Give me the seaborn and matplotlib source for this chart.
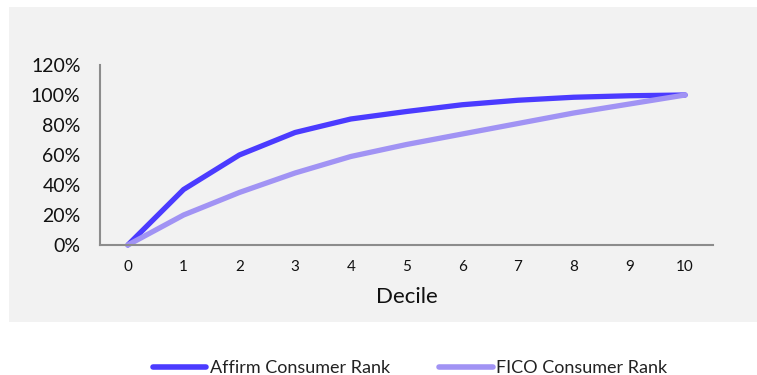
import matplotlib
matplotlib.use("Agg")
import matplotlib.pyplot as plt
import matplotlib.patches as mpatches
from matplotlib.ticker import PercentFormatter
import pandas as pd
import seaborn as sns

deciles = [0, 1, 2, 3, 4, 5, 6, 7, 8, 9, 10]
affirm_rank = [0.0, 0.37, 0.60, 0.75, 0.84, 0.89, 0.935, 0.965, 0.985, 0.995, 1.0]
fico_rank = [0.0, 0.20, 0.35, 0.48, 0.59, 0.67, 0.74, 0.81, 0.88, 0.94, 1.0]
series_names = ["Affirm Consumer Rank", "FICO Consumer Rank"]
series_colors = ["#4B3BFF", "#A193F4"]

df = pd.DataFrame({
    "Decile": deciles * 2,
    "Share": affirm_rank + fico_rank,
    "Series": [series_names[0]] * len(deciles) + [series_names[1]] * len(deciles),
})

sns.set_theme(style="white")
plt.rcParams["font.family"] = ["Lato", "DejaVu Sans"]

fig = plt.figure(figsize=(7.57, 3.75), dpi=100)
fig.patch.set_facecolor("white")
# light grey panel behind the plot area
fig.patches.append(mpatches.Rectangle((9 / 757, 53 / 375), 1 - 9 / 757, 315 / 375,
                                      transform=fig.transFigure, facecolor="#F2F2F2",
                                      edgecolor="none", zorder=-10))

ax = fig.add_axes([100 / 757, 130 / 375, 613 / 757, 180 / 375])
ax.set_facecolor("none")
ax.set_zorder(5)

sns.lineplot(data=df, x="Decile", y="Share", hue="Series", hue_order=series_names,
             palette=series_colors, linewidth=3.8, ax=ax, legend=False)
for line in ax.lines:
    line.set_solid_capstyle("round")
    line.set_solid_joinstyle("round")
    line.set_clip_on(False)

ax.set_xlim(-0.5, 10.5)
ax.set_ylim(0, 1.2)
ax.set_xticks(deciles)
ax.set_yticks([0, 0.2, 0.4, 0.6, 0.8, 1.0, 1.2])
ax.yaxis.set_major_formatter(PercentFormatter(1.0, decimals=0))
ax.tick_params(axis="y", labelsize=14, length=0, pad=14, colors="#111111")
ax.tick_params(axis="x", labelsize=11, length=0, pad=11, colors="#111111")
ax.set_xlabel("Decile", fontsize=16, color="#111111", labelpad=9)
ax.set_ylabel("")

for side in ("top", "right"):
    ax.spines[side].set_visible(False)
for side in ("left", "bottom"):
    ax.spines[side].set_color("#8C8C8C")
    ax.spines[side].set_linewidth(1.5)

handles = [plt.Line2D([], [], color=c, linewidth=4, solid_capstyle="round") for c in series_colors]
fig.legend(handles, series_names, loc="center", bbox_to_anchor=(410 / 757, 7 / 375),
           ncol=2, frameon=False, fontsize=13, handlelength=2.95, handletextpad=0.2,
           columnspacing=2.75, labelcolor="#222222")

fig.savefig("out.png", dpi=100)
